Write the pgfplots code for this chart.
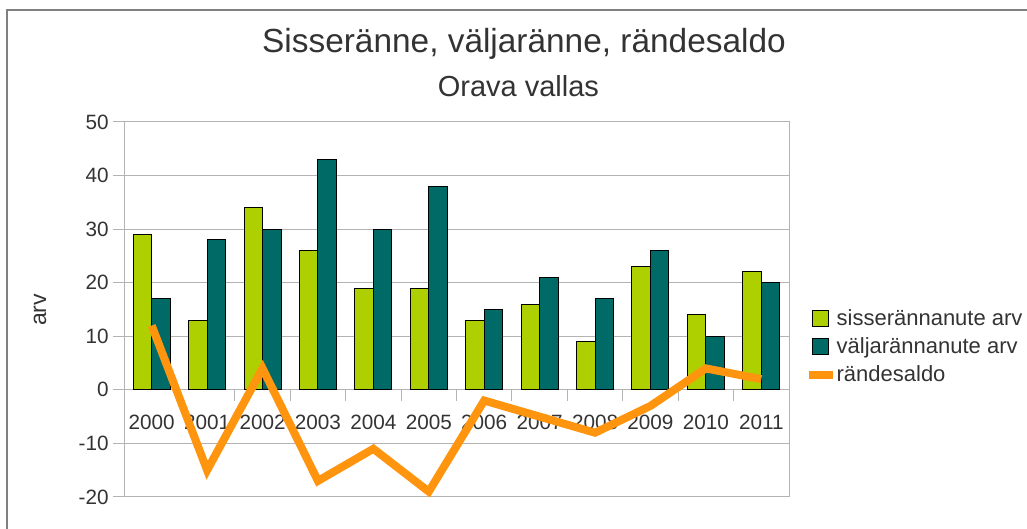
\documentclass[border=0pt]{standalone}
\usepackage{fontspec}
\setmainfont{Liberation Sans}
\usepackage{pgfplots}
\pgfplotsset{compat=1.18}
\definecolor{cgreen}{HTML}{AECF00}
\definecolor{cteal}{HTML}{006A66}
\definecolor{corange}{HTML}{FF950E}
\definecolor{ctext}{HTML}{333333}
\definecolor{cgrid}{HTML}{B3B3B3}
\definecolor{cframe}{HTML}{808080}
\begin{document}
\begin{tikzpicture}[x=1pt,y=1pt]
\useasboundingbox (0,0) rectangle (513.5,264.5);
\draw[cframe,line width=0.6pt] (3.5,0) -- (3.5,259.5) -- (513.5,259.5);
\node[anchor=base,text=ctext,font=\fontsize{16.7}{20}\selectfont,inner sep=0] at (262,238) {Sisseränne, väljaränne, rändesaldo};
\node[anchor=base,text=ctext,font=\fontsize{14.5}{17}\selectfont,inner sep=0] at (259.2,216.2) {Orava vallas};
\begin{axis}[
  at={(62pt,16pt)}, anchor=south west,
  scale only axis, width=332.5pt, height=187.5pt,
  xmin=-0.5, xmax=11.5, ymin=-20, ymax=50,
  ytick={-20,-10,...,50},
  xtick={0,...,11},
  xticklabels={2000,2001,2002,2003,2004,2005,2006,2007,2008,2009,2010,2011},
  /pgf/number format/assume math mode=true,
  ymajorgrids, grid style={cgrid,line width=0.5pt},
  axis line style={cgrid,line width=0.5pt},
  tick align=outside, ytick pos=left,
  major tick length=5.5pt,
  ytick style={cgrid,line width=0.5pt},
  xtick style={draw=none},
  tick label style={text=ctext,font=\fontsize{10.35}{12}\selectfont},
  xticklabel style={anchor=center,yshift=42.6pt},
  yticklabel style={inner sep=2pt},
  ylabel={arv},
  ylabel style={at={(axis description cs:-0.1263,0.4987)},anchor=center,text=ctext,font=\fontsize{11.5}{13}\selectfont},
  legend style={at={(1.0235,0.4)},anchor=west,draw=none,fill=none,inner sep=0pt,outer sep=0pt,
    font=\fontsize{11}{13}\selectfont,text=ctext,row sep=2.5pt,
    nodes={inner sep=0pt,text depth=2.5pt,text height=9pt}},
  legend cell align=left,
]
\pgfplotsinvokeforeach{-0.5,0.5,1.5,2.5,3.5,4.5,5.5,6.5,7.5,8.5,9.5,10.5,11.5}{
  \draw[cgrid,line width=0.5pt] (axis cs:#1,0) -- ++(0pt,-5.5pt);
}
\addplot[ybar,bar width=9.24pt,bar shift=-4.62pt,fill=cgreen,draw=black,line width=0.5pt,
  legend image code/.code={\draw[fill=cgreen,draw=black,line width=0.5pt] (2pt,-4pt) rectangle (10pt,4pt);}]
  coordinates {(0,29) (1,13) (2,34) (3,26) (4,19) (5,19) (6,13) (7,16) (8,9) (9,23) (10,14) (11,22)};
\addlegendentry{sisserännanute arv}
\addplot[ybar,bar width=9.24pt,bar shift=4.62pt,fill=cteal,draw=black,line width=0.5pt,
  legend image code/.code={\draw[fill=cteal,draw=black,line width=0.5pt] (2pt,-4pt) rectangle (10pt,4pt);}]
  coordinates {(0,17) (1,28) (2,30) (3,43) (4,30) (5,38) (6,15) (7,21) (8,17) (9,26) (10,10) (11,20)};
\addlegendentry{väljarännanute arv}
\addplot[sharp plot,corange,line width=4pt,line join=miter,mark=none,
  legend image code/.code={\draw[corange,line width=4pt] (0pt,0pt) -- (12pt,0pt);}]
  coordinates {(0,12) (1,-15) (2,4) (3,-17) (4,-11) (5,-19) (6,-2) (7,-5) (8,-8) (9,-3) (10,4) (11,2)};
\addlegendentry{rändesaldo}
\end{axis}
\end{tikzpicture}
\end{document}
